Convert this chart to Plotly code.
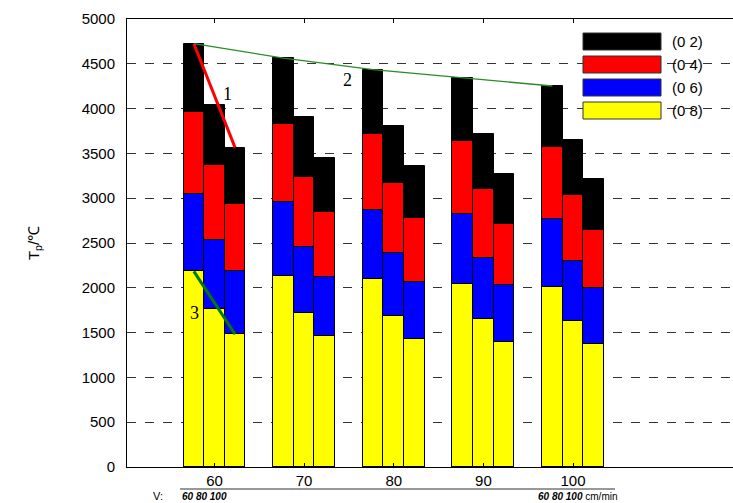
import plotly.graph_objects as go

# ---- data ----
groups = [60, 70, 80, 90, 100]
speeds = [60, 80, 100]  # V, cm/min
levels = ["(0 2)", "(0 4)", "(0 6)", "(0 8)"]
t_02 = [[4724, 4036, 3564], [4564, 3906, 3445], [4434, 3806, 3359], [4341, 3716, 3270], [4252, 3649, 3218]]
t_04 = [[3962, 3367, 2931], [3824, 3240, 2850], [3720, 3173, 2779], [3638, 3102, 2708], [3571, 3039, 2641]]
t_06 = [[3043, 2530, 2184], [2954, 2459, 2117], [2872, 2392, 2065], [2820, 2336, 2027], [2764, 2299, 1998]]
t_08 = [[2184, 1767, 1481], [2128, 1715, 1462], [2098, 1685, 1428], [2042, 1648, 1391], [2009, 1633, 1376]]
y_ticks = [0, 500, 1000, 1500, 2000, 2500, 3000, 3500, 4000, 4500, 5000]

# ---- style ----
colors = ["#000000", "#ff0000", "#0000ff", "#ffff00"]
offsets = [-2.3, 0.0, 2.3]
bar_w = 2.3

def xs_for(i_speed):
    return [g + offsets[i_speed] for g in groups]

fig = go.Figure()
series = [t_02, t_04, t_06, t_08]
for lvl, col, vals in zip(levels, colors, series):
    xs, ys = [], []
    for gi, g in enumerate(groups):
        for si in range(len(speeds)):
            xs.append(g + offsets[si])
            ys.append(vals[gi][si])
    fig.add_trace(go.Bar(x=xs, y=ys, width=bar_w, name=lvl, marker_color=col,
                         marker_line=dict(color="#000000", width=1), showlegend=False))

# line 1: top of (0 2) in the first group, first to last speed
fig.add_trace(go.Scatter(x=[groups[0] + offsets[0], groups[0] + offsets[2]],
                         y=[t_02[0][0], t_02[0][2]], mode="lines",
                         line=dict(color="#ff0000", width=3), showlegend=False))
# line 2: tops of the first speed across groups
fig.add_trace(go.Scatter(x=xs_for(0), y=[row[0] for row in t_02], mode="lines",
                         line=dict(color="#2a8a2a", width=1.3), showlegend=False))
# line 3: top of (0 8) in the first group
fig.add_trace(go.Scatter(x=[groups[0] + offsets[0], groups[0] + offsets[2]],
                         y=[t_08[0][0], t_08[0][2]], mode="lines",
                         line=dict(color="#007a00", width=3), showlegend=False))

W, H = 733, 503
L, R, T, B = 127, 0, 19, 36
pw, ph = W - L - R, H - T - B

def px_x(p):
    return (p - L) / pw

def px_y(p):
    return (H - B - p) / ph

serif = dict(family="Liberation Serif, Times New Roman, serif", size=18, color="#000")
sans = "Liberation Sans, Arial"
annotations = [
    dict(x=61.4, y=4167, text="1", showarrow=False, font=serif, xanchor="center", yanchor="middle"),
    dict(x=74.8, y=4324, text="2", showarrow=False, font=serif, xanchor="center", yanchor="middle"),
    dict(x=57.8, y=1715, text="3", showarrow=False, font=serif, xanchor="center", yanchor="middle"),
    dict(xref="paper", yref="paper", x=px_x(151), y=px_y(496), xanchor="left", yanchor="middle",
         text="V:", showarrow=False, font=dict(family=sans, size=11, color="#000")),
    dict(xref="paper", yref="paper", x=px_x(180), y=px_y(496), xanchor="left", yanchor="middle",
         text="<b><i>60 80 100</i></b>", showarrow=False,
         font=dict(family=sans, size=10, color="#000")),
    dict(xref="paper", yref="paper", x=px_x(536), y=px_y(496), xanchor="left", yanchor="middle",
         text="<b><i>60 80 100</i></b> cm/min", showarrow=False,
         font=dict(family=sans, size=10, color="#000")),
]

shapes = [
    dict(type="line", xref="paper", yref="paper", x0=px_x(180), x1=px_x(615),
         y0=px_y(489), y1=px_y(489), line=dict(color="#333", width=1)),
]

# legend built from swatches
row_tops = [33, 56, 79, 102]
for lvl, col, top in zip(levels, colors, row_tops):
    shapes.append(dict(type="rect", xref="paper", yref="paper",
                       x0=px_x(583), x1=px_x(661), y0=px_y(top + 17), y1=px_y(top),
                       fillcolor=col, line=dict(color="#333", width=1)))
    annotations.append(dict(xref="paper", yref="paper", x=px_x(670), y=px_y(top + 8.5),
                            xanchor="left", yanchor="middle", text=lvl, showarrow=False,
                            font=dict(family=sans, size=15, color="#000")))

fig.update_layout(
    width=W, height=H,
    margin=dict(l=L, r=R, t=T, b=B),
    barmode="overlay",
    bargap=0,
    plot_bgcolor="#ffffff", paper_bgcolor="#ffffff",
    font=dict(family=sans, size=14, color="#000"),
    annotations=annotations,
    shapes=shapes,
    showlegend=False,
)
fig.update_xaxes(range=[50.24, 117.85], tickvals=groups, ticktext=[str(g) for g in groups],
                 showgrid=False, zeroline=False, showline=True, linecolor="#000", linewidth=1,
                 mirror="ticks", ticks="inside", ticklen=4, tickcolor="#000",
                 ticklabelstandoff=0, tickfont=dict(size=15))
fig.update_yaxes(range=[0, 5000], tickvals=y_ticks, showgrid=True, gridcolor="#333",
                 griddash="dash", gridwidth=1, zeroline=False, showline=True,
                 linecolor="#000", linewidth=1, ticks="", ticklabelstandoff=8,
                 tickfont=dict(size=15),
                 title=dict(text="T<sub>p</sub>/℃", standoff=38, font=dict(size=15)))

fig.write_html("out.html")
